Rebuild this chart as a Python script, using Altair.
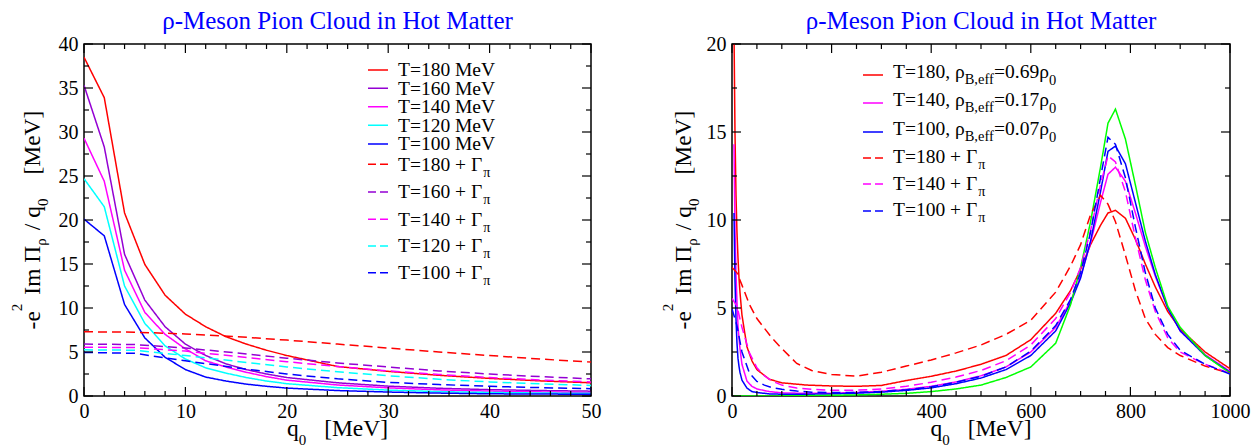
import altair as alt
import pandas as pd

FONT = "Liberation Serif"

# ---------------- tick values ----------------
L_XTICKS = [0, 10, 20, 30, 40, 50]
L_XMINOR = [2, 4, 6, 8, 12, 14, 16, 18, 22, 24, 26, 28, 32, 34, 36, 38, 42, 44, 46, 48]
L_YTICKS = [0, 5, 10, 15, 20, 25, 30, 35, 40]
L_YMINOR = [2.5, 7.5, 12.5, 17.5, 22.5, 27.5, 32.5, 37.5]
R_XTICKS = [0, 200, 400, 600, 800, 1000]
R_XMINOR = [50, 100, 150, 250, 300, 350, 450, 500, 550, 650, 700, 750, 850, 900, 950]
R_YTICKS = [0, 5, 10, 15, 20]
R_YMINOR = [2.5, 7.5, 12.5, 17.5]

# ---------------- left panel data ----------------
q_left = [0, 2, 4, 6, 8, 10, 12, 14, 16, 18, 20, 25, 30, 35, 40, 45, 50]
L_T180 = [38.5, 33.9, 20.8, 14.95, 11.45, 9.3, 7.87, 6.74, 5.9, 5.2, 4.6, 3.35, 2.8, 2.35, 2.0, 1.72, 1.5]
L_T160 = [35.3, 28.3, 16.1, 10.9, 7.87, 5.9, 4.6, 3.65, 3.0, 2.5, 2.1, 1.5, 1.12, 0.88, 0.72, 0.62, 0.55]
L_T140 = [29.3, 24.4, 14.3, 9.5, 7.0, 5.35, 4.0, 3.3, 2.7, 2.2, 1.8, 1.25, 0.93, 0.7, 0.56, 0.47, 0.4]
L_T120 = [24.7, 21.5, 12.5, 8.25, 5.7, 4.2, 3.2, 2.6, 2.1, 1.7, 1.4, 0.95, 0.67, 0.5, 0.4, 0.34, 0.3]
L_T100 = [20.1, 18.2, 10.4, 6.6, 4.4, 3.0, 2.15, 1.7, 1.35, 1.1, 0.9, 0.62, 0.45, 0.33, 0.25, 0.22, 0.2]

q_left_g = [0, 5, 10, 15, 20, 25, 30, 35, 40, 45, 50]
L_G180 = [7.3, 7.25, 7.05, 6.75, 6.35, 5.9, 5.45, 5.0, 4.6, 4.2, 3.85]
L_G160 = [5.9, 5.85, 5.45, 4.9, 4.3, 3.75, 3.3, 2.85, 2.5, 2.2, 1.95]
L_G140 = [5.55, 5.5, 5.1, 4.5, 3.9, 3.35, 2.85, 2.45, 2.1, 1.82, 1.6]
L_G120 = [5.25, 5.2, 4.6, 3.95, 3.3, 2.75, 2.3, 1.9, 1.6, 1.38, 1.2]
L_G100 = [4.95, 4.85, 4.0, 3.2, 2.5, 1.95, 1.55, 1.3, 1.1, 0.95, 0.83]

# ---------------- right panel data ----------------
q_right = [4, 6, 8, 10, 12, 14, 16, 20, 30, 40, 50, 75, 100, 150, 200, 250, 300, 350, 400, 450, 500,
           550, 600, 650, 680, 700, 720, 740, 755, 770, 790, 810, 830, 850, 875, 900, 950, 1000]
R_T180 = [20.8, 14.95, 11.45, 9.3, 7.87, 6.74, 5.9, 4.6, 2.8, 2.0, 1.5, 0.95, 0.75, 0.62, 0.57, 0.55, 0.6, 0.88, 1.12,
          1.42, 1.8, 2.3, 3.2, 4.7, 6.0, 7.2, 8.6, 9.7, 10.4, 10.55, 10.1, 8.9, 7.5, 6.2, 4.8, 3.8, 2.5, 1.55]
R_T140 = [14.3, 9.5, 7.0, 5.35, 4.0, 3.3, 2.7, 1.8, 0.85, 0.55, 0.4, 0.25, 0.18, 0.15, 0.16, 0.2, 0.27, 0.38, 0.55,
          0.8, 1.15, 1.65, 2.5, 3.9, 5.4, 6.8, 8.7, 11.0, 12.6, 13.0, 12.2, 10.4, 8.5, 6.8, 5.0, 3.7, 2.35, 1.4]
R_T100 = [10.4, 6.6, 4.4, 3.0, 2.15, 1.7, 1.35, 0.9, 0.45, 0.25, 0.2, 0.12, 0.1, 0.1, 0.12, 0.16, 0.22, 0.32, 0.46,
          0.7, 1.02, 1.5, 2.3, 3.7, 5.3, 6.7, 8.8, 11.6, 13.9, 14.2, 13.2, 11.0, 8.8, 6.9, 5.0, 3.7, 2.3, 1.35]
R_VAC = [0, 0, 0, 0, 0, 0, 0, 0, 0, 0, 0, 0, 0.01, 0.02, 0.04, 0.06, 0.1, 0.15, 0.25,
         0.4, 0.62, 1.05, 1.65, 3.0, 5.2, 7.3, 9.9, 13.0, 15.5, 16.3, 14.6, 12.0, 9.3, 7.3, 5.1, 3.9, 2.3, 1.3]

q_right_g = [0, 10, 20, 35, 50, 65, 80, 100, 130, 160, 200, 250, 300, 350, 400, 450, 500, 550, 600, 650,
             680, 700, 720, 740, 755, 770, 790, 810, 830, 850, 875, 900, 950, 1000]
R_G180 = [7.3, 7.0, 6.3, 5.2, 4.4, 3.85, 3.3, 2.7, 1.85, 1.45, 1.22, 1.13, 1.35, 1.7, 2.05, 2.45, 2.9, 3.5, 4.3, 5.9,
          7.4, 8.6, 10.3, 11.4, 10.9, 9.9, 8.0, 6.0, 4.4, 3.5, 2.75, 2.3, 1.7, 1.28]
R_G140 = [5.55, 5.1, 3.9, 2.45, 1.6, 1.15, 0.85, 0.62, 0.45, 0.38, 0.33, 0.33, 0.4, 0.55, 0.78, 1.08, 1.45, 2.0, 2.9,
          4.4, 5.9, 7.3, 9.4, 12.0, 13.65, 13.3, 11.6, 9.0, 6.6, 4.8, 3.3, 2.5, 1.8, 1.3]
R_G100 = [4.95, 4.0, 2.5, 1.3, 0.83, 0.62, 0.48, 0.38, 0.28, 0.22, 0.2, 0.2, 0.26, 0.36, 0.52, 0.78, 1.12, 1.65, 2.55,
          4.0, 5.5, 7.0, 9.3, 12.4, 14.7, 14.3, 12.4, 9.6, 7.0, 5.0, 3.5, 2.6, 1.8, 1.25]

RED, VIOLET, MAGENTA, CYAN, BLUE, GREEN = "#ff0000", "#9400d3", "#ff00ff", "#00ffff", "#0000ff", "#00ff00"
SOLID, DASH = [1, 0], [9, 5]

W1, W2, H = 507, 498, 352
ONE = pd.DataFrame({"k": [0]})

CW = {'T': .611, '=': .564, ' ': .25, 'M': .889, 'e': .444, 'V': .722, '+': .564, 'Γ': .578, 'π': .549,
      'ρ': .5, ',': .25, 'B': .667, 'f': .333, '.': .25, '-': .333, 'I': .333, 'm': .778, 'Π': .722,
      '/': .278, 'q': .5, '[': .333, ']': .333}


def tw(s, size):
    return sum(CW.get(c, .5) for c in s) * size


def txt(s, x, y, size, color="black", angle=0, align="left"):
    kw = dict(text=s, font=FONT, fontSize=size, align=align, baseline="alphabetic", color=color)
    if angle:
        kw["angle"] = angle
    return alt.Chart(ONE).mark_text(**kw).encode(x=alt.value(x), y=alt.value(y))


def run_len(pieces):
    return sum(g + tw(t, s) for t, s, sh, g in pieces)


def run(pieces, x0, y0, color="black", angle=0):
    out, pos = [], 0.0
    for t, s, sh, g in pieces:
        pos += g
        if angle == 0:
            out.append(txt(t, x0 + pos, y0 + sh, s, color))
        else:
            out.append(txt(t, x0 + sh, y0 - pos, s, color, angle=270))
        pos += tw(t, s)
    return out


def long_df(q, series):
    rows = []
    for name, vals in series:
        for a, b in zip(q, vals):
            rows.append({"q": a, "v": b, "s": name})
    return rows


def panel(df, names, colors, dashes, xdom, ydom, W, xt, xm, yt, ym, legend_layers, ytitle_x):
    xs = alt.Scale(domain=xdom, nice=False, zero=False)
    ys = alt.Scale(domain=ydom, nice=False, zero=False)
    ax = alt.Axis(values=xt, format="d", title=None, labelPadding=5, labelFont=FONT)
    ay = alt.Axis(values=yt, format="d", title=None, labelPadding=6, labelFont=FONT)
    lines = alt.Chart(df).mark_line(clip=True, strokeWidth=1.5).encode(
        x=alt.X("q:Q", scale=xs, axis=ax),
        y=alt.Y("v:Q", scale=ys, axis=ay),
        color=alt.Color("s:N", scale=alt.Scale(domain=names, range=colors), legend=None),
        strokeDash=alt.StrokeDash("s:N", scale=alt.Scale(domain=names, range=dashes), legend=None),
    )
    layers = [lines]
    for vals, L in ((xt, 9), (xm, 5)):
        d = pd.DataFrame({"q": vals})
        for y0, y1 in ((H, H - L), (0, L)):
            layers.append(alt.Chart(d).mark_rule(color="black", strokeWidth=1.2).encode(
                x=alt.X("q:Q", scale=xs, axis=ax), y=alt.value(y0), y2=alt.value(y1)))
    for vals, L in ((yt, 9), (ym, 5)):
        d = pd.DataFrame({"v": vals})
        for x0, x1 in ((0, L), (W, W - L)):
            layers.append(alt.Chart(d).mark_rule(color="black", strokeWidth=1.2).encode(
                y=alt.Y("v:Q", scale=ys, axis=ay), x=alt.value(x0), x2=alt.value(x1)))
    # panel title
    layers.append(txt("ρ-Meson Pion Cloud in Hot Matter", W / 2, -15, 25, "#0000ff", align="center"))
    # rotated y title with super/subscripts
    yp = [("-e", 23.5, 0, 0), ("2", 15, -18.5, 0), ("Im Π", 23.5, 0, 9), ("ρ", 15, 6, 0),
          ("/ q", 23.5, 0, 8), ("0", 15, 8, 0), ("[MeV]", 23.5, 0, 24)]
    layers += run(yp, ytitle_x, H / 2 + run_len(yp) / 2, angle=270)
    # x title
    xp = [("q", 23.5, 0, 0), ("0", 15, 9, 0), ("[MeV]", 23.5, 0, 18)]
    layers += run(xp, W / 2 - run_len(xp) / 2, H + 40)
    layers += legend_layers
    return alt.layer(*layers).properties(width=W, height=H)


def leg_line(x0, x1, y, color, dash):
    return alt.Chart(ONE).mark_rule(color=color, strokeWidth=1.5, strokeDash=dash).encode(
        x=alt.value(x0), x2=alt.value(x1), y=alt.value(y))


# ---------------- left panel ----------------
L_names = ["T=180 MeV", "T=160 MeV", "T=140 MeV", "T=120 MeV", "T=100 MeV",
           "T=180 + Γ", "T=160 + Γ", "T=140 + Γ", "T=120 + Γ", "T=100 + Γ"]
L_colors = [RED, VIOLET, MAGENTA, CYAN, BLUE] * 2
L_dash = [SOLID] * 5 + [DASH] * 5
left_df = pd.DataFrame(
    long_df(q_left, list(zip(L_names[:5], [L_T180, L_T160, L_T140, L_T120, L_T100]))) +
    long_df(q_left_g, list(zip(L_names[5:], [L_G180, L_G160, L_G140, L_G120, L_G100]))))

L_rows = [26, 44.3, 62.7, 81.3, 100, 120.3, 148, 175.3, 202, 228.7]
left_leg = []
for i, (name, col, dsh, yy) in enumerate(zip(L_names, L_colors, L_dash, L_rows)):
    left_leg.append(leg_line(284, 304, yy, col, [8, 4] if i >= 5 else SOLID))
    pcs = [(name, 19.5, 0, 0)]
    if i >= 5:
        pcs.append(("π", 14, 6, 1))
    left_leg += run(pcs, 314, yy + 6.3)

left = panel(left_df, L_names, L_colors, L_dash, [0, 50], [0, 40], W1,
             L_XTICKS, L_XMINOR, L_YTICKS, L_YMINOR, left_leg, -44)

# ---------------- right panel ----------------
R_names = ["T=180", "T=140", "T=100", "vac", "T=180 + Γ", "T=140 + Γ", "T=100 + Γ"]
R_colors = [RED, MAGENTA, BLUE, GREEN, RED, MAGENTA, BLUE]
R_dash = [SOLID] * 4 + [DASH] * 3
right_df = pd.DataFrame(
    long_df(q_right, list(zip(R_names[:4], [R_T180, R_T140, R_T100, R_VAC]))) +
    long_df(q_right_g, list(zip(R_names[4:], [R_G180, R_G140, R_G100]))))

R_leg_text = [("T=180, ρ", "=0.69ρ"), ("T=140, ρ", "=0.17ρ"), ("T=100, ρ", "=0.07ρ")]
R_leg_dashed = ["T=180 + Γ", "T=140 + Γ", "T=100 + Γ"]
R_leg_cols = [RED, MAGENTA, BLUE]
R_line_y = [31, 59, 88, 114, 140, 167]
R_base_y = [34, 62, 90.5, 119, 145.5, 172]
right_leg = []
for i in range(3):
    right_leg.append(leg_line(131, 151, R_line_y[i], R_leg_cols[i], SOLID))
    a, b = R_leg_text[i]
    right_leg += run([(a, 19.5, 0, 0), ("B,eff", 14.5, 6, 0), (b, 19.5, 0, 0), ("0", 14.5, 7, 0)],
                     161, R_base_y[i])
for i in range(3):
    right_leg.append(leg_line(131, 151, R_line_y[3 + i], R_leg_cols[i], [8, 4]))
    right_leg += run([(R_leg_dashed[i], 19.5, 0, 0), ("π", 14, 6, 1)], 161, R_base_y[3 + i])

right = panel(right_df, R_names, R_colors, R_dash, [0, 1000], [0, 20], W2,
              R_XTICKS, R_XMINOR, R_YTICKS, R_YMINOR, right_leg, -41)

chart = alt.hconcat(left, right, spacing=57).resolve_scale(
    color="independent", strokeDash="independent"
).properties(
    padding={"left": 0, "top": 0, "right": 0, "bottom": 0}
).configure_view(
    stroke="black", strokeWidth=1.5
).configure_axis(
    labelFont=FONT, labelFontSize=20, labelColor="black", domain=False, ticks=False, tickSize=0,
    grid=False, labelFlush=False, labelOverlap=False)

chart.save("out.html", embed_options={"renderer": "svg", "actions": False})
